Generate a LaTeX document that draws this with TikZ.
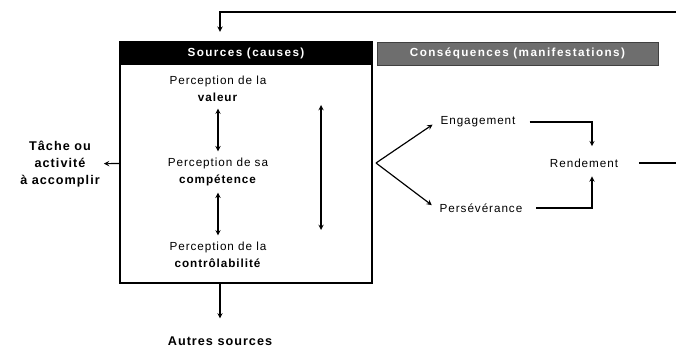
\documentclass[tikz,border=0pt]{standalone}
\usepackage{fontspec}
\setmainfont[LetterSpace=8]{Liberation Sans}
\newfontfamily\headfont[LetterSpace=12]{Liberation Sans}
\usetikzlibrary{arrows}
\definecolor{consgray}{HTML}{6E6E6E}
\definecolor{consedge}{HTML}{404040}
\begin{document}
\begin{tikzpicture}[x=0.03cm, y=-0.03cm,
            txt/.style={align=center, font=\fontsize{10}{15}\selectfont},
            side/.style={align=center, font=\bfseries\fontsize{10.8}{14.5}\selectfont},
            head/.style={minimum width=7.56cm, minimum height=0.69cm, text=white, font=\headfont\bfseries\fontsize{10}{12}\selectfont},
            arrow/.style={->, >=stealth, line width=1pt},
            dblarrow/.style={<->, >=stealth, line width=1pt}
        ]
            \useasboundingbox (0,0) rectangle (676,347);
            % boxes
            \node[draw, line width=1.2pt, minimum width=7.56cm, minimum height=7.23cm] (sources) at (246,162.5) {};
            \node[head, fill=black] (srchead) at (246,53.5) {Sources (causes)};
            \node[head, fill=consgray, draw=consedge, minimum width=8.43cm] (conshead) at (517.5,53.5) {Conséquences (manifestations)};

            \node[txt] (valeur) at (218,89) {Perception de la\\\textbf{valeur}};
            \node[txt] (compet) at (218,172) {Perception de sa\\\textbf{compétence}};
            \node[txt] (control) at (218,255) {Perception de la\\\textbf{contrôlabilité}};
            \node[side] (tache) at (60,164) {Tâche ou\\activité\\à accomplir};
            \node[side] (autres) at (220,341) {Autres sources};

            \node[txt] (engag) at (478,122) {Engagement};
            \node[txt] (perse) at (481,208) {Persévérance};
            \node[txt] (rend) at (584,163) {Rendement};

            \coordinate (longtop) at (321,105);
            \coordinate (longbot) at (321,230);
            \coordinate (fan) at (376,163);
            \coordinate (loop) at (690,12);

            \draw[dblarrow, shorten <=2pt, shorten >=2pt] (valeur) -- (compet);
            \draw[dblarrow, shorten <=2pt, shorten >=2pt] (compet) -- (control);
            \draw[dblarrow] (longtop) -- (longbot);
            \draw[arrow] (sources) -- (tache);
            \draw[arrow, shorten >=0.42cm] (sources.south -| autres) -- (autres);
            \draw[arrow, shorten >=4pt] (fan) -- (engag.west);
            \draw[arrow, shorten >=4pt] (fan) -- (perse.west);
            \draw[arrow, shorten <=0.3cm, shorten >=0.25cm] (engag.east) -| ([xshift=0.24cm]rend.north);
            \draw[arrow, shorten <=0.3cm, shorten >=0.15cm] (perse.east) -| ([xshift=0.24cm]rend.south);
            \draw[arrow, shorten <=0.5cm, shorten >=0.3cm] (rend.east) -- (rend -| loop) -- (loop) -| (srchead.north -| autres);
        \end{tikzpicture}
\end{document}
